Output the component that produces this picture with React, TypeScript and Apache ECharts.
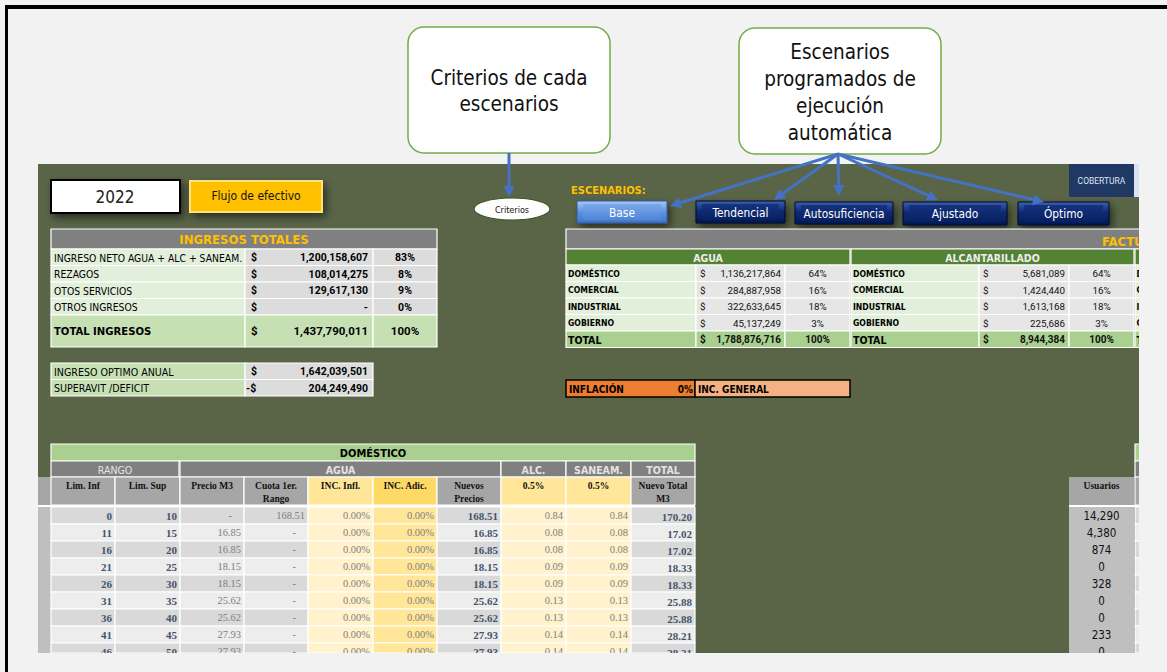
import React, { useEffect, useRef } from "react";
import * as echarts from "echarts";

const W = 1167;
const H = 672;

// ---------- data ----------
const ingresosLabels = ["INGRESO NETO AGUA + ALC + SANEAM.", "REZAGOS", "OTOS SERVICIOS", "OTROS INGRESOS"];
const ingresosValues = ["1,200,158,607", "108,014,275", "129,617,130", "-"];
const ingresosPct = ["83%", "8%", "9%", "0%"];
const ingresosTotal = ["TOTAL INGRESOS", "1,437,790,011", "100%"];

const optimoLabels = ["INGRESO OPTIMO ANUAL", "SUPERAVIT /DEFICIT"];
const optimoSigns = ["$", "-$"];
const optimoValues = ["1,642,039,501", "204,249,490"];

const escenarios = ["Base", "Tendencial", "Autosuficiencia", "Ajustado", "Óptimo"];

const facturacionTitle = "FACTU"; // visible (cropped) part of the title
const facturacionCats = ["DOMÉSTICO", "COMERCIAL", "INDUSTRIAL", "GOBIERNO", "TOTAL"];
const facturacionCropped = ["D", "C", "I", "G", "T"];
const aguaValues = ["1,136,217,864", "284,887,958", "322,633,645", "45,137,249", "1,788,876,716"];
const aguaPct = ["64%", "16%", "18%", "3%", "100%"];
const alcValues = ["5,681,089", "1,424,440", "1,613,168", "225,686", "8,944,384"];
const alcPct = ["64%", "16%", "18%", "3%", "100%"];

const rangoHeaders = ["Lim. Inf", "Lim. Sup", "Precio M3", "Cuota 1er.|Rango", "INC. Infl.", "INC. Adic.", "Nuevos|Precios", "0.5%", "0.5%", "Nuevo Total|M3"];
const limInf = ["0", "11", "16", "21", "26", "31", "36", "41", "46"];
const limSup = ["10", "15", "20", "25", "30", "35", "40", "45", "50"];
const precioM3 = ["-", "16.85", "16.85", "18.15", "18.15", "25.62", "25.62", "27.93", "27.93"];
const cuota = ["168.51", "-", "-", "-", "-", "-", "-", "-", "-"];
const incInfl = ["0.00%", "0.00%", "0.00%", "0.00%", "0.00%", "0.00%", "0.00%", "0.00%", "0.00%"];
const incAdic = ["0.00%", "0.00%", "0.00%", "0.00%", "0.00%", "0.00%", "0.00%", "0.00%", "0.00%"];
const nuevosPrecios = ["168.51", "16.85", "16.85", "18.15", "18.15", "25.62", "25.62", "27.93", "27.93"];
const alcM3 = ["0.84", "0.08", "0.08", "0.09", "0.09", "0.13", "0.13", "0.14", "0.14"];
const saneamM3 = ["0.84", "0.08", "0.08", "0.09", "0.09", "0.13", "0.13", "0.14", "0.14"];
const nuevoTotal = ["170.20", "17.02", "17.02", "18.33", "18.33", "25.88", "25.88", "28.21", "28.21"];
const usuarios = ["14,290", "4,380", "874", "0", "328", "0", "0", "233", "0"];

// ---------- helpers ----------
const SANS = '"Liberation Sans Narrow", "DejaVu Sans Condensed", Roboto, sans-serif';
const NUM = 'Roboto, "DejaVu Sans Condensed", sans-serif';
const SERIF = '"Liberation Serif", "DejaVu Serif", serif';
const PAGE = "#f2f2f2";
const PANEL = "#5a6548";

type Opt = { stroke?: string; lw?: number; r?: number; z?: number; shadow?: boolean };
function R(x: number, y: number, w: number, h: number, fill: any, o: Opt = {}) {
  const style: any = { fill, stroke: o.stroke || null, lineWidth: o.lw ?? 0 };
  if (o.shadow) {
    style.shadowBlur = 8;
    style.shadowColor = "rgba(0,0,0,0.55)";
    style.shadowOffsetX = 3;
    style.shadowOffsetY = 4;
  }
  return {
    type: "rect",
    silent: true,
    z: o.z ?? 1,
    shape: { x, y, width: w, height: h, r: o.r ?? 0 },
    style,
  };
}
type TO = { size?: number; weight?: string; color?: string; align?: string; family?: string; va?: string; z?: number };
function T(x: number, y: number, text: string, o: TO = {}) {
  const size = o.size ?? 11;
  const weight = o.weight ?? "normal";
  const align = o.align ?? "left";
  const va = o.va ?? "middle";
  return {
    type: "text",
    silent: true,
    z: o.z ?? 2,
    x,
    y,
    style: {
      text,
      fill: o.color ?? "#000",
      font: `${weight} ${size}px ${o.family ?? SANS}`,
      textAlign: align,
      textVerticalAlign: va,
      align,
      verticalAlign: va,
    },
  };
}
function arrow(x1: number, y1: number, x2: number, y2: number, color: string) {
  const ang = Math.atan2(y2 - y1, x2 - x1);
  const L = 11;
  const Wd = 5.5;
  const bx = x2 - L * Math.cos(ang);
  const by = y2 - L * Math.sin(ang);
  const px = -Math.sin(ang) * Wd;
  const py = Math.cos(ang) * Wd;
  return [
    { type: "line", silent: true, z: 5, shape: { x1, y1, x2: bx, y2: by }, style: { stroke: color, lineWidth: 3 } },
    {
      type: "polygon",
      silent: true,
      z: 5,
      shape: { points: [[x2, y2], [bx + px, by + py], [bx - px, by - py]] },
      style: { fill: color },
    },
  ];
}
const grad = (stops: [number, string][]) => ({
  type: "linear",
  x: 0,
  y: 0,
  x2: 0,
  y2: 1,
  colorStops: stops.map(([offset, color]) => ({ offset, color })),
});

function buildElements() {
  const els: any[] = [];
  const WL = { stroke: "#ffffff", lw: 1.2 };

  // page and panel
  els.push(R(0, 0, W, H, PAGE, { z: 0 }));
  els.push(R(38, 164, 1101, 489, PANEL, { z: 0 }));

  // ---- top-left boxes ----
  els.push(R(51, 180, 129, 33, "#ffffff", { stroke: "#000", lw: 2, shadow: true }));
  els.push(T(115, 197, "2022", { size: 17, color: "#222", align: "center" }));
  els.push(R(190, 181, 132, 31, "#ffc000", { stroke: "#ffe27a", lw: 2, shadow: true }));
  els.push(T(256, 196, "Flujo de efectivo", { size: 12, align: "center", color: "#111" }));

  // ---- INGRESOS TOTALES ----
  const cx = [51, 245, 373];
  const cw = [194, 128, 64];
  els.push(R(51, 229, 386, 20, "#808080", WL));
  els.push(T(244, 239.5, "INGRESOS TOTALES", { size: 13, weight: "bold", color: "#ffc000", align: "center" }));
  ingresosLabels.forEach((lab, i) => {
    const y = 249 + i * 16.5;
    els.push(R(cx[0], y, cw[0], 16.5, "#e2efda", WL));
    els.push(R(cx[1], y, cw[1], 16.5, "#dcdcdc", WL));
    els.push(R(cx[2], y, cw[2], 16.5, "#dcdcdc", WL));
    els.push(T(54, y + 8.5, lab, { size: 10.3 }));
    els.push(T(251, y + 8.5, "$", { size: 10.5, weight: "bold", family: NUM }));
    els.push(T(368, y + 8.5, ingresosValues[i], { size: 10.5, weight: "bold", align: "right", family: NUM }));
    els.push(T(405, y + 8.5, ingresosPct[i], { size: 10.5, weight: "bold", align: "center", family: NUM }));
  });
  {
    const y = 315;
    for (let c = 0; c < 3; c++) els.push(R(cx[c], y, cw[c], 32, "#c6e0b4", WL));
    els.push(T(54, y + 16, ingresosTotal[0], { size: 11.2, weight: "bold" }));
    els.push(T(251, y + 16, "$", { size: 11.5, weight: "bold", family: NUM }));
    els.push(T(368, y + 16, ingresosTotal[1], { size: 11.5, weight: "bold", align: "right", family: NUM }));
    els.push(T(405, y + 16, ingresosTotal[2], { size: 11.5, weight: "bold", align: "center", family: NUM }));
  }
  optimoLabels.forEach((lab, i) => {
    const y = 363 + i * 16.5;
    els.push(R(51, y, 194, 16.5, "#c6e0b4", WL));
    els.push(R(245, y, 128, 16.5, "#dcdcdc", WL));
    els.push(T(54, y + 8.5, lab, { size: 10.6 }));
    els.push(T(optimoSigns[i] === "$" ? 251 : 246, y + 8.5, optimoSigns[i], { size: 10.5, weight: "bold", family: NUM }));
    els.push(T(368, y + 8.5, optimoValues[i], { size: 10.5, weight: "bold", align: "right", family: NUM }));
  });

  // ---- callouts ----
  els.push(R(408, 27, 202, 126, "#ffffff", { stroke: "#70ad47", lw: 1.5, r: 16 }));
  els.push(T(509, 78, "Criterios de cada", { size: 20.5, align: "center", color: "#111" }));
  els.push(T(509, 104, "escenarios", { size: 20.5, align: "center", color: "#111" }));
  els.push(R(739, 28, 202, 126, "#ffffff", { stroke: "#70ad47", lw: 1.5, r: 16 }));
  ["Escenarios", "programados de", "ejecución", "automática"].forEach((s, i) =>
    els.push(T(840, 52 + i * 27, s, { size: 20.5, align: "center", color: "#111" }))
  );

  // Criterios oval
  els.push({
    type: "ellipse",
    silent: true,
    z: 1,
    shape: { cx: 512, cy: 209, rx: 38, ry: 11 },
    style: { fill: "#ffffff", stroke: "#375623", lineWidth: 1.2 },
  });
  els.push(T(512, 209.5, "Criterios", { size: 9, align: "center", color: "#111" }));

  // COBERTURA
  els.push(R(1069, 164, 65, 33, "#203864"));
  els.push(R(1134, 164, 5, 33, "#dae3f3"));
  els.push(T(1101.5, 180.5, "COBERTURA", { size: 8.5, align: "center", color: "#dfe6f3", family: "Roboto, sans-serif" }));

  // ESCENARIOS label and buttons
  els.push(T(571, 190, "ESCENARIOS:", { size: 11, weight: "bold", color: "#ffc000" }));
  const btn = [
    [577, 201, 90, 22],
    [696, 201, 89, 22],
    [795, 202, 98, 22],
    [903, 202, 104, 23],
    [1018, 202, 91, 23],
  ];
  escenarios.forEach((name, i) => {
    const [x, y, w, h] = btn[i];
    const base = i === 0;
    els.push(
      R(x, y, w, h, base ? grad([[0, "#a9c8f3"], [0.5, "#5d93e0"], [1, "#3f74c8"]]) : grad([[0, "#3c5fae"], [0.45, "#0c2a74"], [1, "#041a55"]]), {
        stroke: base ? "#2f5aa0" : "#020c2e",
        lw: 1,
        shadow: true,
      })
    );
    els.push(
      R(x + 6, y + 3, w - 12, h - 6, base ? grad([[0, "#7aa8ea"], [1, "#4f85d6"]]) : grad([[0, "#15337f"], [1, "#08205f"]]))
    );
    els.push(T(x + w / 2, y + h / 2 + 0.5, name, { size: 11.8, align: "center", color: "#ffffff", z: 3 }));
  });

  // arrows
  els.push(...arrow(509, 153, 509, 197, "#4472c4"));
  const org: [number, number] = [838, 154];
  const tips = [
    [670, 206],
    [774, 200],
    [839, 196],
    [938, 200],
    [1044, 202],
  ];
  tips.forEach(([x, y]) => els.push(...arrow(org[0], org[1], x, y, "#4472c4")));

  // ---- FACTURACION ----
  els.push(R(566, 229, 600, 20, "#808080", WL));
  els.push(T(1102, 241, facturacionTitle, { size: 13, weight: "bold", color: "#ffc000" }));
  const blocks = [
    { x: 566, lw: 130, vw: 89, pw: 65, title: "AGUA", vals: aguaValues, pct: aguaPct },
    { x: 851, lw: 128, vw: 90, pw: 65, title: "ALCANTARILLADO", vals: alcValues, pct: alcPct },
  ];
  blocks.forEach((b) => {
    const total = b.lw + b.vw + b.pw;
    els.push(R(b.x, 249, total, 16, "#548235", WL));
    els.push(T(b.x + total / 2, 257.5, b.title, { size: 10.5, weight: "bold", align: "center", color: "#ededed" }));
    facturacionCats.forEach((cat, i) => {
      const isTot = i === 4;
      const y = 265 + i * 16.5;
      const h = 16.5;
      els.push(R(b.x, y, b.lw, h, isTot ? "#a9d08e" : "#e2efda", WL));
      els.push(R(b.x + b.lw, y, b.vw, h, isTot ? "#a9d08e" : "#e7e6e6", WL));
      els.push(R(b.x + b.lw + b.vw, y, b.pw, h, isTot ? "#a9d08e" : "#e7e6e6", WL));
      els.push(T(b.x + 2, y + 8.5, cat, { size: isTot ? 10.5 : 8.6, weight: "bold" }));
      const wgt = isTot ? "bold" : "normal";
      const sz = isTot ? 10 : 9.8;
      els.push(T(b.x + b.lw + 4, y + 8.5, "$", { size: sz, weight: wgt, color: "#111", family: NUM }));
      els.push(T(b.x + b.lw + b.vw - 4, y + 8.5, b.vals[i], { size: sz, weight: wgt, align: "right", color: "#111", family: NUM }));
      els.push(T(b.x + b.lw + b.vw + b.pw / 2, y + 8.5, b.pct[i], { size: sz, weight: wgt, align: "center", color: "#111", family: NUM }));
    });
  });
  // third (cropped) block
  els.push(R(1135, 249, 40, 16, "#548235", WL));
  facturacionCropped.forEach((cat, i) => {
    const y = 265 + i * 16.5;
    els.push(R(1135, y, 40, 16.5, i === 4 ? "#a9d08e" : "#e2efda", WL));
    els.push(T(1136.5, y + 8.5, cat, { size: i === 4 ? 10.5 : 8.6, weight: "bold" }));
  });

  // INFLACION
  els.push(R(566, 380, 129, 17, "#ed7d31", { stroke: "#000", lw: 1.5 }));
  els.push(R(695, 380, 155, 17, "#f4b183", { stroke: "#000", lw: 1.5 }));
  els.push(T(569, 389, "INFLACIÓN", { size: 10, weight: "bold" }));
  els.push(T(693, 389, "0%", { size: 10, weight: "bold", align: "right" }));
  els.push(T(698, 389, "INC. GENERAL", { size: 10, weight: "bold" }));

  // ---- DOMESTICO table ----
  els.push(R(51, 444, 644, 17, "#a9d08e", WL));
  els.push(T(373, 453, "DOMÉSTICO", { size: 11, weight: "bold", align: "center" }));
  const grp = [
    [51, 128, "RANGO", "normal"],
    [180, 321, "AGUA", "bold"],
    [501, 65, "ALC.", "bold"],
    [566, 65, "SANEAM.", "bold"],
    [631, 64, "TOTAL", "bold"],
  ] as const;
  grp.forEach(([x, w, t, wt]) => {
    els.push(R(x, 461, w, 16, "#808080", WL));
    els.push(T(x + w / 2, 469.5, t, { size: 10.5, weight: wt, align: "center", color: "#e4e4e4" }));
  });
  const colX = [51, 115, 180, 244, 308, 373, 437, 501, 566, 631, 695];
  const headFill = ["#a6a6a6", "#a6a6a6", "#a6a6a6", "#a6a6a6", "#ffe699", "#ffd966", "#a6a6a6", "#ffe699", "#ffe699", "#a6a6a6"];
  const cellFillYellow: (string | null)[] = [null, null, null, null, "#fff2cc", "#ffe699", null, "#fff2cc", "#fff2cc", null];
  // left strip
  els.push(R(38, 477, 13, 28, "#a6a6a6"));
  els.push(R(38, 507, 13, 146, "#bfbfbf"));
  rangoHeaders.forEach((hd, c) => {
    const x = colX[c];
    const w = colX[c + 1] - x;
    els.push(R(x, 477, w, 28, headFill[c], WL));
    const parts = hd.split("|");
    parts.forEach((p, k) =>
      els.push(T(x + w / 2, 485.5 + k * 13, p, { size: 9.5, weight: "bold", align: "center", family: SERIF, color: "#111" }))
    );
  });
  els.push(R(38, 505, 657, 2, "#ffffff"));
  const cols = [limInf, limSup, precioM3, cuota, incInfl, incAdic, nuevosPrecios, alcM3, saneamM3, nuevoTotal];
  const boldCol = [true, true, false, false, false, false, true, false, false, true];
  const rowH = 17;
  limInf.forEach((_, i) => {
    const y = 507 + i * rowH;
    const h = Math.min(rowH, 653 - y);
    for (let c = 0; c < 10; c++) {
      const x = colX[c];
      const w = colX[c + 1] - x;
      const fill = cellFillYellow[c] ?? (i % 2 === 0 ? "#d9d9d9" : "#ededed");
      els.push(R(x, y, w, h, fill, WL));
      const v = cols[c][i];
      const isDash = v === "-";
      els.push(
        T(isDash ? x + w - 12 : x + w - 3, y + 8.5 + (c === 9 ? 1.5 : 0), v, {
          size: boldCol[c] ? 11 : 10.5,
          weight: boldCol[c] ? "bold" : "normal",
          align: "right",
          family: SERIF,
          color: boldCol[c] ? "#44546a" : "#808080",
        })
      );
    }
    // right cropped column
    els.push(R(1135, y, 10, h, i % 2 === 0 ? "#d9d9d9" : "#ededed", WL));
    // usuarios
    els.push(T(1101.5, y + 9, usuarios[i], { size: 11.5, align: "center", color: "#111" }));
  });
  // usuarios column
  els.push(R(1069, 477, 65, 28, "#a6a6a6"));
  els.push(R(1069, 505, 70, 2, "#ffffff"));
  els.push(R(1069, 507, 65, 146, "#bfbfbf", { z: 1 }));
  els.push(T(1101.5, 485.5, "Usuarios", { size: 9.5, weight: "bold", align: "center", family: SERIF, color: "#111" }));
  els.push(R(1135, 444, 10, 17, "#a9d08e", WL));
  els.push(R(1135, 461, 10, 16, "#808080", WL));
  els.push(R(1135, 477, 10, 28, "#a6a6a6", WL));

  // crop covers and frame
  els.push(R(1139, 9, 40, H, PAGE, { z: 20 }));
  els.push(R(8, 653, W, 30, PAGE, { z: 20 }));
  els.push(R(5, 5, W, 4, "#000", { z: 21 }));
  els.push(R(5, 5, 3, H, "#000", { z: 21 }));
  return els;
}

export default function App() {
  const ref = useRef<HTMLDivElement>(null);
  useEffect(() => {
    document.body.style.margin = "0";
    if (!ref.current) return;
    const chart = echarts.init(ref.current, undefined, { renderer: "svg", width: W, height: H });
    chart.setOption({
      animation: false,
      backgroundColor: PAGE,
      graphic: { elements: buildElements() },
    });
    return () => chart.dispose();
  }, []);
  return <div ref={ref} style={{ width: W, height: H }} />;
}
